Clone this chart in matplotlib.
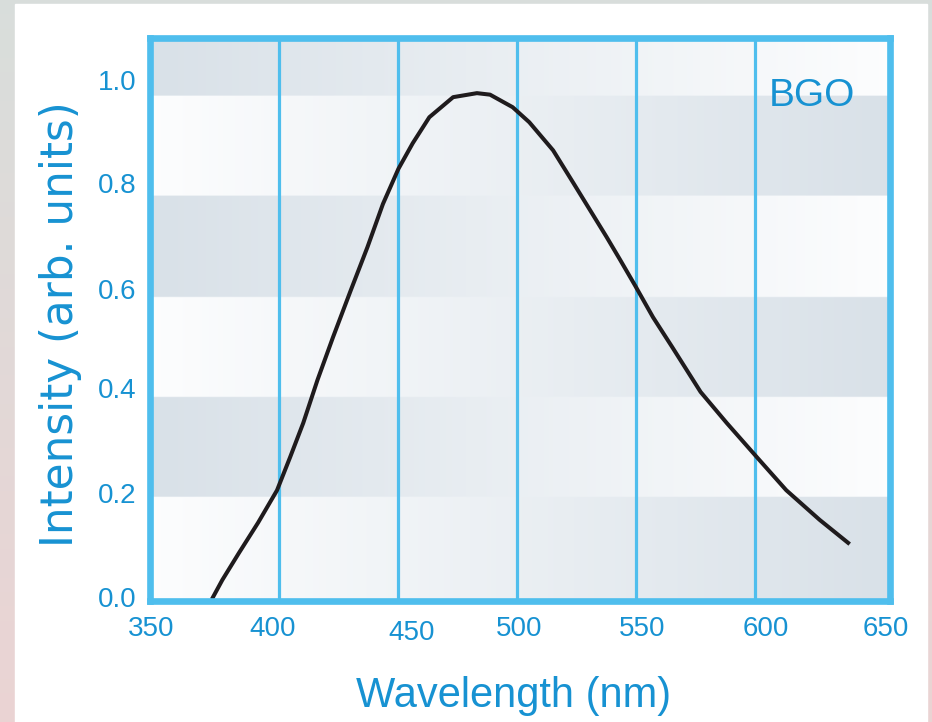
import matplotlib.pyplot as plt
import numpy as np
from matplotlib.patches import Rectangle
from matplotlib.transforms import ScaledTranslation

# BGO emission spectrum
wavelength = [372, 376, 383, 391, 399, 404.5, 410, 416, 422.5, 430, 437, 443.5,
              450, 456, 463, 473, 483, 488.5, 498, 505, 515, 523.5, 530.5,
              537.5, 543, 549.5, 557, 565, 577, 588, 601, 613, 627, 639]
intensity = [0.0, 0.035, 0.089, 0.149, 0.214, 0.28, 0.348, 0.434, 0.519, 0.613,
             0.699, 0.785, 0.855, 0.906, 0.958, 0.998, 1.006, 1.003, 0.978, 0.948,
             0.892, 0.827, 0.773, 0.719, 0.675, 0.622, 0.559, 0.5, 0.41,
             0.348, 0.278, 0.214, 0.155, 0.109]

x_ticks = [350, 400, 450, 500, 550, 600, 650]
x_tick_labels = ['350', '400', '450', '500', '550', '600', '650']
y_ticks = [0.0, 0.2, 0.4, 0.6, 0.8, 1.0]
y_tick_labels = ['0.0', '0.2', '0.4', '0.6', '0.8', '1.0']
sample_name = 'BGO'

BLUE = '#4fbeed'
TEXT_BLUE = '#1792d2'
NARROW = ['Liberation Sans', 'DejaVu Sans']

fig = plt.figure(figsize=(9.32, 7.22), dpi=100)

# outer border gradient and white panel
bg = fig.add_axes([0, 0, 1, 1], zorder=-10)
grad = np.linspace(0, 1, 50).reshape(-1, 1)
top_c = np.array([0.85, 0.87, 0.86])
bot_c = np.array([0.92, 0.83, 0.83])
bg.imshow(top_c + grad[..., None] * (bot_c - top_c), aspect='auto',
          extent=(0, 1, 0, 1))
bg.add_patch(Rectangle((15 / 932, 0), 912 / 932, 718 / 722, color='white'))
bg.set_xlim(0, 1)
bg.set_ylim(0, 1)
bg.axis('off')

ax = fig.add_axes([150 / 932, 121 / 722, 740 / 932, 562.5 / 722])
xmin, xmax = 345.6, 656.6
ymin, ymax = -0.007, 1.115
ax.set_xlim(xmin, xmax)
ax.set_ylim(ymin, ymax)

# alternating horizontal gradient bands
gray = np.array([0.85, 0.882, 0.91])
white = np.array([0.99, 0.993, 0.996])
rows = 400
img = np.zeros((rows, 200, 3))
t = np.linspace(0, 1, 200)
for r in range(rows):
    yv = ymax - (r + 0.5) / rows * (ymax - ymin)
    band = int(np.floor(max(yv, 0) / 0.2))
    w = t if band % 2 == 0 else 1 - t
    img[r] = white + w[:, None] * (gray - white)
ax.imshow(img, aspect='auto', extent=(xmin, xmax, ymin, ymax), zorder=0,
          interpolation='bilinear')

for xv in x_ticks[1:-1]:
    ax.axvline(xv, color=BLUE, lw=2.3, zorder=1)

ax.plot(wavelength, intensity, color='#1f1b1d', lw=2.9, zorder=3,
        solid_joinstyle='round')

for s in ax.spines.values():
    s.set_color(BLUE)
    s.set_linewidth(4.8)
    s.set_zorder(4)

ax.set_xticks(x_ticks)
ax.set_xticklabels(x_tick_labels)
ax.set_yticks(y_ticks)
ax.set_yticklabels(y_tick_labels)
ax.tick_params(length=0, colors=TEXT_BLUE, labelsize=20)
ax.tick_params(axis='x', pad=11)
ax.tick_params(axis='y', pad=10)
for lab in ax.get_xticklabels() + ax.get_yticklabels():
    lab.set_family(NARROW)

# small hand-placed shifts of the labels in the original (pixels)
x_shift = [(-9, 0), (-7, 0), (13, -4), (2, 0), (6, 0), (10, 0), (12, 0)]
for lab, (dx, dy) in zip(ax.get_xticklabels(), x_shift):
    lab.set_transform(lab.get_transform() +
                      ScaledTranslation(dx / 100, dy / 100, fig.dpi_scale_trans))
y_shift = [0, 4, 9, 8, 13, 16]
for lab, dy in zip(ax.get_yticklabels(), y_shift):
    lab.set_transform(lab.get_transform() +
                      ScaledTranslation(0, dy / 100, fig.dpi_scale_trans))

ax.text(624, 1.0, sample_name, ha='center', va='center', color=TEXT_BLUE,
        fontsize=28, family=NARROW, zorder=5)

fig.text(514 / 932, 1 - 696 / 722, 'Wavelength (nm)', ha='center', va='center',
         color=TEXT_BLUE, fontsize=30, family=NARROW)
fig.text(61 / 932, 1 - 324 / 722, 'Intensity (arb. units)', ha='center',
         va='center', rotation=90, color=TEXT_BLUE, fontsize=31.5,
         family=['DejaVu Sans'])

fig.savefig('out.png', dpi=100)
